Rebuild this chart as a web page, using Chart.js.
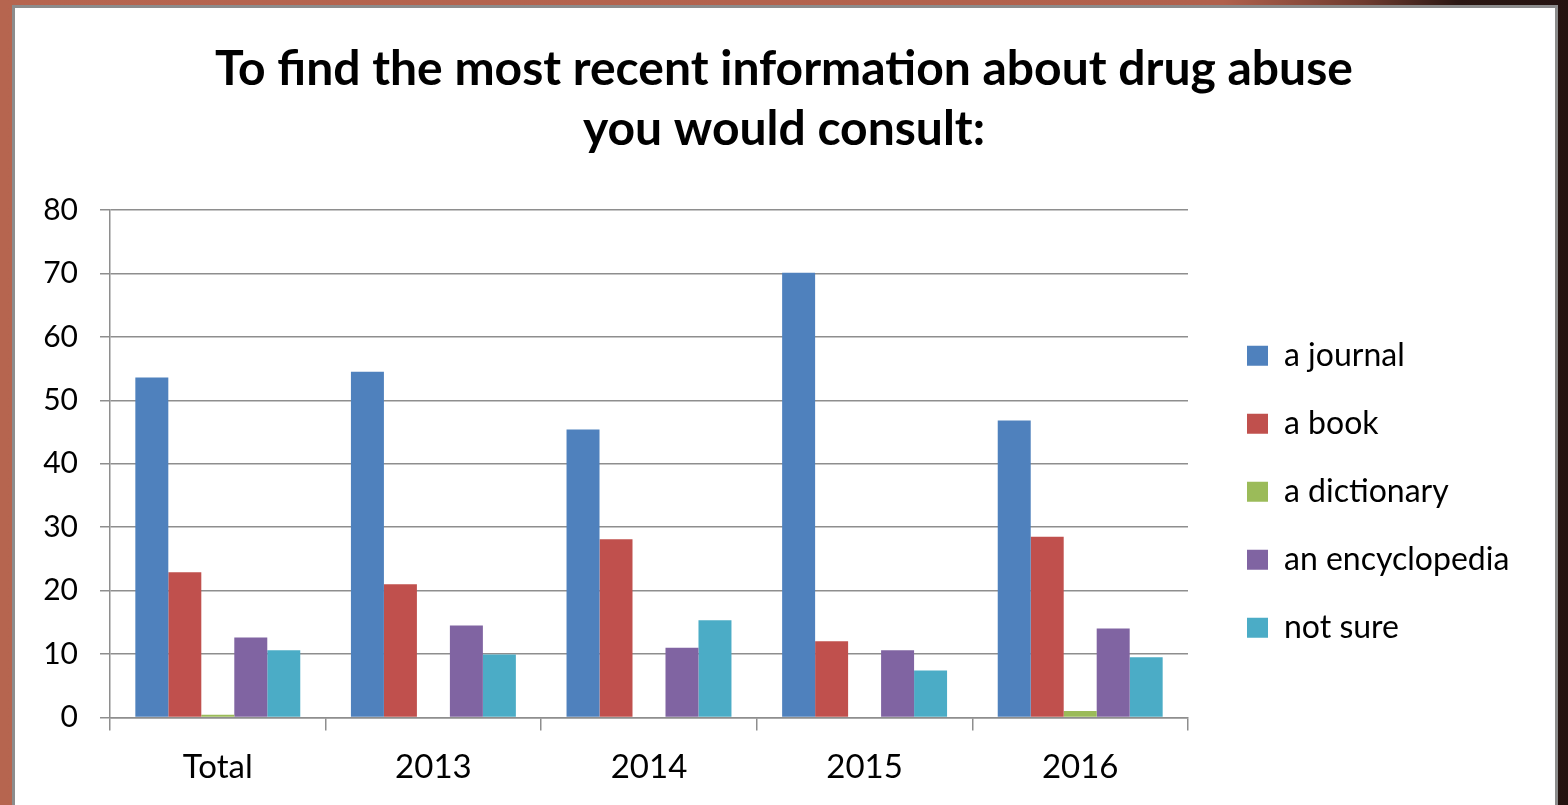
<!DOCTYPE html>
<html>
<head>
<meta charset="utf-8">
<script src="https://cdn.jsdelivr.net/npm/chart.js@4.4.1/dist/chart.umd.min.js"></script>
<style>
  html, body { margin: 0; padding: 0; }
  body {
    width: 1568px; height: 805px; overflow: hidden; position: relative;
    background: linear-gradient(90deg, #b6654f 0%, #b1614c 78%, #6e3b2f 87%, #2b1713 93%, #241310 100%);
  }
  .panel {
    position: absolute; left: 12px; top: 5px; width: 1540px; height: 900px;
    border: 3px solid #8c8c8c; background: #fff;
  }
  #chart { position: absolute; left: 0; top: 0; }
</style>
</head>
<body>
<div class="panel"></div>
<canvas id="chart" width="1568" height="805"></canvas>
<script>
const categories = ["Total", "2013", "2014", "2015", "2016"];
const journal = [53.6, 54.5, 45.4, 70.1, 46.8];
const book = [22.9, 21.0, 28.1, 12.0, 28.5];
const dictionary = [0.4, 0, 0, 0, 1.0];
const encyclopedia = [12.6, 14.5, 11.0, 10.6, 14.0];
const notSure = [10.6, 9.9, 15.3, 7.4, 9.5];
const yTicks = [0, 10, 20, 30, 40, 50, 60, 70, 80];

const sidePad = 30; // same both sides so the title stays centred
const rightBlock = 327; // legend + empty room to its right
const axisGray = "#8e8e8e";

function draw() {
  const ctx = document.getElementById("chart").getContext("2d");
  new Chart(ctx, {
    type: "bar",
    data: {
      labels: categories,
      datasets: [
        { label: "a journal", data: journal, backgroundColor: "#4F81BD" },
        { label: "a book", data: book, backgroundColor: "#C0504D" },
        { label: "a dictionary", data: dictionary, backgroundColor: "#9BBB59" },
        { label: "an encyclopedia", data: encyclopedia, backgroundColor: "#8064A2" },
        { label: "not sure", data: notSure, backgroundColor: "#4BACC6" },
      ],
    },
    options: {
      responsive: false,
      animation: false,
      devicePixelRatio: 1,
      datasets: { bar: { categoryPercentage: 0.765, barPercentage: 1, borderWidth: 0 } },
      layout: { padding: { left: sidePad, right: sidePad, top: 0, bottom: 1 } },
      plugins: {
        title: {
          display: true,
          text: ["To find the most recent information about drug abuse", "you would consult:"],
          color: "#000",
          font: { family: "Lato", size: 48, weight: "bold", lineHeight: 60 / 48 },
          padding: { top: 40, bottom: 50 },
        },
        legend: {
          position: "right",
          fullSize: false,
          maxWidth: 500,
          // empty title only pushes the items down
          title: { display: true, text: "", font: { size: 1, lineHeight: 1 }, padding: { top: 55, bottom: 0 } },
          labels: {
            color: "#000",
            font: { family: "Lato", size: 32 },
            boxWidth: 21,
            boxHeight: 20,
            padding: 36,
          },
        },
        tooltip: { enabled: false },
      },
      scales: {
        x: {
          grid: { display: true, drawOnChartArea: false, drawTicks: true, tickLength: 13, color: axisGray, lineWidth: 1.5 },
          border: { display: true, color: axisGray, width: 1.5 },
          ticks: { color: "#000", font: { family: "Lato", size: 33 }, padding: 17 },
        },
        y: {
          min: 0,
          max: 80,
          afterBuildTicks: (scale) => { scale.ticks = yTicks.map((v) => ({ value: v })); },
          afterFit: (scale) => { scale.width = 110 - sidePad; },
          grid: { color: axisGray, lineWidth: 1.5, tickLength: 10 },
          border: { display: true, color: axisGray, width: 1.5 },
          ticks: { color: "#000", font: { family: "Lato", size: 30 }, padding: 22 },
        },
        // empty spacer between plot and legend
        gap: {
          position: "right",
          display: true,
          grid: { display: false, drawTicks: false },
          border: { display: false },
          ticks: { display: false },
          afterFit: (scale) => { scale.width = 23; },
        },
        // empty spacer outside the legend
        outer: {
          position: "right",
          weight: 2000,
          display: true,
          grid: { display: false, drawTicks: false },
          border: { display: false },
          ticks: { display: false },
          afterFit: (scale) => {
            const lg = scale.chart.legend;
            scale.width = Math.max(0, rightBlock - (lg ? lg.width : 0));
          },
        },
      },
    },
  });
}

Promise.all([
  document.fonts.load("bold 48px Lato"),
  document.fonts.load("32px Lato"),
]).then(draw, draw);
</script>
</body>
</html>
